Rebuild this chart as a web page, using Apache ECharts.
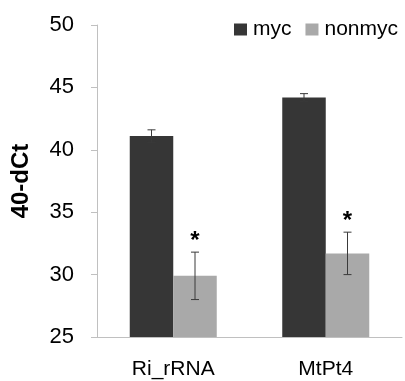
<!DOCTYPE html>
<html>
<head>
<meta charset="utf-8">
<script src="https://cdn.jsdelivr.net/npm/echarts@6/dist/echarts.min.js"></script>
<style>html,body{margin:0;padding:0;background:#fff;}#c{width:405px;height:381px;}</style>
</head>
<body>
<div id="c"></div>
<script>
var categories = ['Ri_rRNA', 'MtPt4'];
var mycValues = [41.1, 44.2];
var mycErrors = [0.5, 0.3];
var nonmycValues = [29.9, 31.7];
var nonmycErrors = [1.9, 1.7];
var nonmycMarks = ['*', '*'];
var yTicks = [25, 30, 35, 40, 45, 50];

var FONT = 'Liberation Sans';
var BAR_W = 43.5;

function errorSeries(values, errors, side, marks) {
  var data = values.map(function (v, i) { return [i, v, errors[i], marks ? marks[i] : '']; });
  return {
    type: 'custom',
    z: 10,
    silent: true,
    renderItem: function (params, api) {
      var i = api.value(0), v = api.value(1), e = api.value(2);
      var c = api.coord([i, v]);
      var x = c[0] + side * BAR_W / 2;
      var top = api.coord([i, v + e])[1];
      var bot = api.coord([i, v - e])[1];
      var cap = 4;
      var style = { stroke: '#3a3a3a', lineWidth: 1 };
      var children = [
        { type: 'line', shape: { x1: x, y1: top, x2: x, y2: bot }, style: style },
        { type: 'line', shape: { x1: x - cap, y1: top, x2: x + cap, y2: top }, style: style },
        { type: 'line', shape: { x1: x - cap, y1: bot, x2: x + cap, y2: bot }, style: style }
      ];
      var m = data[params.dataIndex][3];
      if (m) {
        children.push({ type: 'text', style: { text: m, x: x, y: top - 11, align: 'center', verticalAlign: 'middle', font: 'bold 24px ' + FONT, fill: '#000' } });
      }
      return { type: 'group', children: children };
    },
    data: data
  };
}

var chart = echarts.init(document.getElementById('c'));
chart.setOption({
  animation: false,
  textStyle: { fontFamily: FONT },
  legend: {
    right: 2, top: 14,
    itemWidth: 13, itemHeight: 12, itemGap: 14,
    icon: 'rect',
    textStyle: { fontSize: 21, color: '#000', fontFamily: FONT, padding: [0, 0, 0, 1] },
    data: ['myc', 'nonmyc']
  },
  grid: { left: 97, right: 3, top: 25, bottom: 44 },
  xAxis: {
    type: 'category',
    data: categories,
    axisLine: { lineStyle: { color: '#c0c0c0' } },
    axisTick: { show: false },
    axisLabel: { fontSize: 21, color: '#000', margin: 22, fontFamily: FONT }
  },
  yAxis: {
    type: 'value',
    min: 25, max: 50, interval: 5,
    name: '40-dCt',
    nameLocation: 'middle',
    nameGap: 64,
    nameTextStyle: { fontSize: 24, fontWeight: 'bold', color: '#000', fontFamily: FONT },
    axisLine: { show: true, lineStyle: { color: '#c0c0c0' } },
    axisTick: { show: true, length: 6, lineStyle: { color: '#c0c0c0' } },
    splitLine: { show: false },
    axisLabel: { fontSize: 22, color: '#000', margin: 23, fontFamily: FONT,
      formatter: function (v) { return yTicks.indexOf(v) >= 0 ? String(v) : ''; } }
  },
  series: [
    { name: 'myc', type: 'bar', data: mycValues, barWidth: BAR_W, barGap: '0%', itemStyle: { color: '#363636' } },
    { name: 'nonmyc', type: 'bar', data: nonmycValues, barWidth: BAR_W, barGap: '0%', itemStyle: { color: '#a9a9a9' } },
    errorSeries(mycValues, mycErrors, -1, null),
    errorSeries(nonmycValues, nonmycErrors, 1, nonmycMarks)
  ]
});
</script>
</body>
</html>
